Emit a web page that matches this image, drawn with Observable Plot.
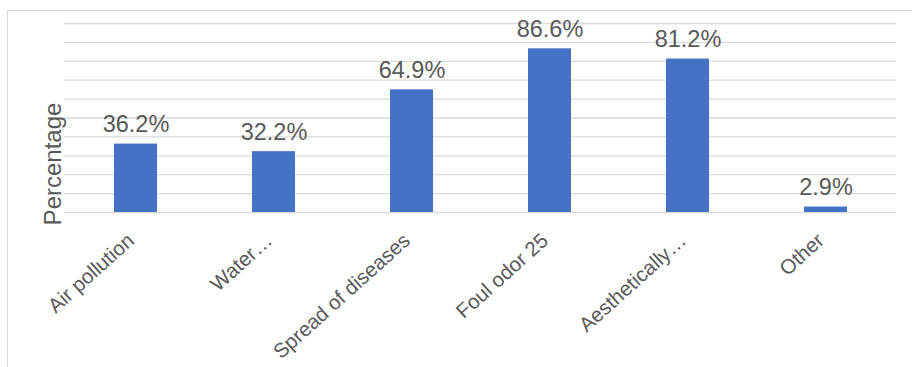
<!DOCTYPE html>
<html>
<head>
<meta charset="utf-8">
<script src="https://cdn.jsdelivr.net/npm/d3@7"></script>
<script src="https://cdn.jsdelivr.net/npm/@observablehq/plot@0.6"></script>
<style>
  html, body { margin: 0; padding: 0; background: #fff; }
  #wrap { position: relative; width: 912px; height: 367px; overflow: hidden; }
  #frame { position: absolute; left: 7px; top: 10px; width: 940px; height: 400px; border: 1px solid #d9d9d9; box-sizing: border-box; }
  #chart { position: absolute; left: 0; top: 0; }
</style>
</head>
<body>
<div id="wrap"><div id="frame"></div><div id="chart"></div></div>
<script>
const categories = ["Air pollution", "Water…", "Spread of diseases", "Foul odor 25", "Aesthetically…", "Other"];
const values = [36.2, 32.2, 64.9, 86.6, 81.2, 2.9];
const yTicks = [0, 10, 20, 30, 40, 50, 60, 70, 80, 90, 100];
const yLabel = ["Percentage"];

const data = categories.map((c, i) => ({category: c, value: values[i]}));
const FONT = "'Liberation Sans', Arial, sans-serif";
const TEXT = "#595959";

const chart = Plot.plot({
  width: 912,
  height: 367,
  marginLeft: 64,
  marginRight: 16,
  marginTop: 23,
  marginBottom: 155,
  style: {fontFamily: FONT, background: "transparent", overflow: "visible"},
  x: {domain: categories, paddingInner: 0.69, paddingOuter: 0.345, label: null},
  y: {domain: [0, 100], label: null, axis: null},
  marks: [
    Plot.gridY(yTicks, {stroke: "#d9d9d9", strokeOpacity: 1, strokeWidth: 1.3}),
    Plot.barY(data, {x: "category", y: "value", fill: "#4472C4"}),
    Plot.text(data, {x: "category", y: "value", text: d => d.value.toFixed(1) + "%",
      lineAnchor: "bottom", dy: -12, fontSize: 23.5, fill: TEXT}),
    Plot.axisX({tickSize: 0, tickRotate: -42, tickPadding: 18, dx: -5, dy: 7, fontSize: 20.5, fill: TEXT, label: null}),
    Plot.text(yLabel, {frameAnchor: "left", textAnchor: "middle", rotate: -90, dx: -11, dy: 46, fontSize: 24, fill: TEXT})
  ]
});
document.getElementById("chart").appendChild(chart);
</script>
</body>
</html>
